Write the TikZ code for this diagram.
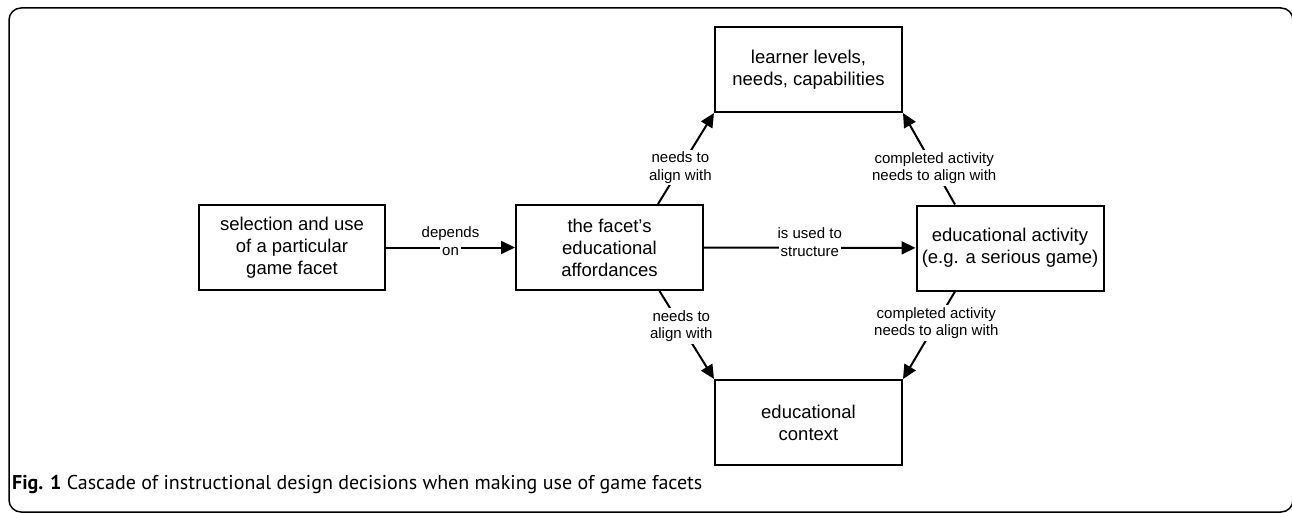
\documentclass[tikz,border=0pt]{standalone}
\usepackage{fontspec}
\setmainfont{Liberation Sans}
\newfontfamily\capfont{PT Sans}
\usetikzlibrary{arrows.meta}

\begin{document}
\begin{tikzpicture}[x=1pt,y=-1pt,
    box/.style={draw, line width=2pt, minimum width=187pt, minimum height=85pt,
      align=center, font=\fontsize{18.5}{22}\selectfont},
    link/.style={line width=2pt, -{Triangle[length=14pt,width=13pt]}},
    lbl/.style={fill=white, inner sep=2pt, align=center, font=\fontsize{15}{17.5}\selectfont},
    lbltxt/.style={inner sep=0pt, font=\fontsize{15}{17.5}\selectfont}]
  \useasboundingbox (0,0) rectangle (1292,513);
  % frame
  \draw[line width=1.5pt, rounded corners=12pt] (9,8) rectangle (1293,512);

  % boxes
  \node[box, minimum width=186pt] (facet) at (292,247.5) {selection and use\\of a particular\\game facet};
  \node[box] (afford) at (609.5,247.5) {the facet's\\educational\\affordances};
  \node[box] (learner) at (808.5,69.5) {learner levels,\\needs, capabilities};
  \node[box] (activity) at (1010,248) {educational activity\\(e.g. a serious game)};
  \node[box] (context) at (808.5,422.5) {educational\\context};

  % connectors
  \draw[link] (facet) -- node[lbl, yshift=-4pt] (dependson) {on} (afford);
  \node[lbltxt, anchor=base] at ([yshift=18pt]dependson.base) {depends};
  \draw[link] (afford) -- node[lbl, yshift=-4pt] (usedto) {structure} (activity);
  \node[lbltxt, anchor=base] at ([yshift=18pt]usedto.base) {is used to};
  \draw[link] ([xshift=48.5pt]afford.north) -- node[lbl, pos=0.4] {needs to\\align with} (learner.south west);
  \draw[link] ([xshift=-55pt]activity.north) -- node[lbl, pos=0.4] {completed activity\\needs to align with} (learner.south east);
  \draw[link] ([xshift=50pt]afford.south) -- node[lbl, pos=0.4] {needs to\\align with} (context.north west);
  \draw[link] ([xshift=-55pt]activity.south) -- node[lbl, pos=0.36] {completed activity\\needs to align with} (context.north east);

  % caption
  \node[anchor=base west, inner sep=0pt, font=\capfont\fontsize{20}{23}\selectfont] (caption) at (12,489)
    {\textbf{Fig. 1} Cascade of instructional design decisions when making use of game facets};
\end{tikzpicture}
\end{document}
